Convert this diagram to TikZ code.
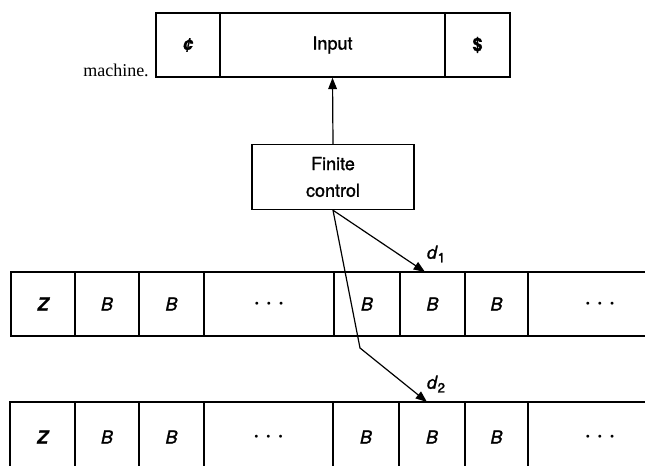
\documentclass[tikz,border=0pt]{standalone}
\usepackage{fontspec}
\setmainfont{Liberation Serif}
\setsansfont[FakeBold=1.2]{TeX Gyre Heros}
\usetikzlibrary{arrows.meta}

% three spaced dots for the unbounded parts of a tape
\newcommand{\tapedots}{{\boldmath$\cdot$\hspace{4.5pt}$\cdot$\hspace{4.5pt}$\cdot$}}

\begin{document}
\begin{tikzpicture}[x=0.75pt,y=-0.75pt,
  labelfont/.style={font=\sffamily\fontsize{13.5}{20}\selectfont},
  cellbox/.style={draw, line width=1.1pt, inner sep=0pt, minimum height=48pt, labelfont},
  symfont/.style={font=\sffamily\itshape\fontsize{13.5}{16}\selectfont},
  link/.style={line width=0.9pt, -{Triangle[length=8.5pt,width=6.5pt]}},
  dlabel/.style={font=\sffamily\itshape\fontsize{13.5}{16}\selectfont, inner sep=0pt},
]
\useasboundingbox (0,0) rectangle (645,466);
\clip (0,0) rectangle (645,466);

% running text beside the figure
\node[font=\rmfamily\fontsize{13.5}{16}\selectfont, anchor=base east, inner sep=0pt] (txt) at (149,77) {machine.};

% input tape with end markers
\node[cellbox, minimum width=48pt] (cent) at (188,45) {\bfseries\itshape ¢};
\node[cellbox, minimum width=168.75pt] (inp) at (332.5,45) {Input};
\node[cellbox, minimum width=48.75pt] (dollar) at (477.5,45) {\bfseries \$};

% finite control
\node[cellbox, minimum width=121.5pt, minimum height=48.75pt, align=center] (fc) at (333,177) {Finite\\control};

% first storage tape
\foreach \cx/\w/\lab [count=\i] in {43/64/\bfseries Z, 107/64/B, 171.5/65/B, 269/130/\tapedots, 367/66/B, 432.5/65/B, 496.5/63/B, 600/144/\tapedots}
  \node[cellbox, symfont, minimum width=\w*0.75pt] (ta\i) at (\cx,304) {\lab};

% second storage tape (runs past the lower edge)
\foreach \cx/\w/\lab [count=\i] in {42.5/65/\bfseries Z, 107/64/B, 171.5/65/B, 268.5/129/\tapedots, 366/66/B, 432/66/B, 496.5/63/B, 600/144/\tapedots}
  \node[cellbox, symfont, minimum width=\w*0.75pt, minimum height=52.5pt] (tb\i) at (\cx,437) {\lab};

% head positions and bend of the second connector
\coordinate (h1) at (425,272);
\coordinate (bend) at (360,348);
\coordinate (h2) at (427,402);

% connectors
\draw[link] (fc.north) -- (inp.south);
\draw[link] (fc.south) -- (h1);
\draw[link] (fc.south) -- (bend) -- (h2);

% head labels
\node[dlabel] (d1) at (436,254) {d\kern0.5pt\raisebox{-0.4ex}{\upshape\fontsize{10}{10}\selectfont 1}};
\node[dlabel] (d2) at (436,384) {d\kern0.5pt\raisebox{-0.4ex}{\upshape\fontsize{10}{10}\selectfont 2}};
\end{tikzpicture}
\end{document}
